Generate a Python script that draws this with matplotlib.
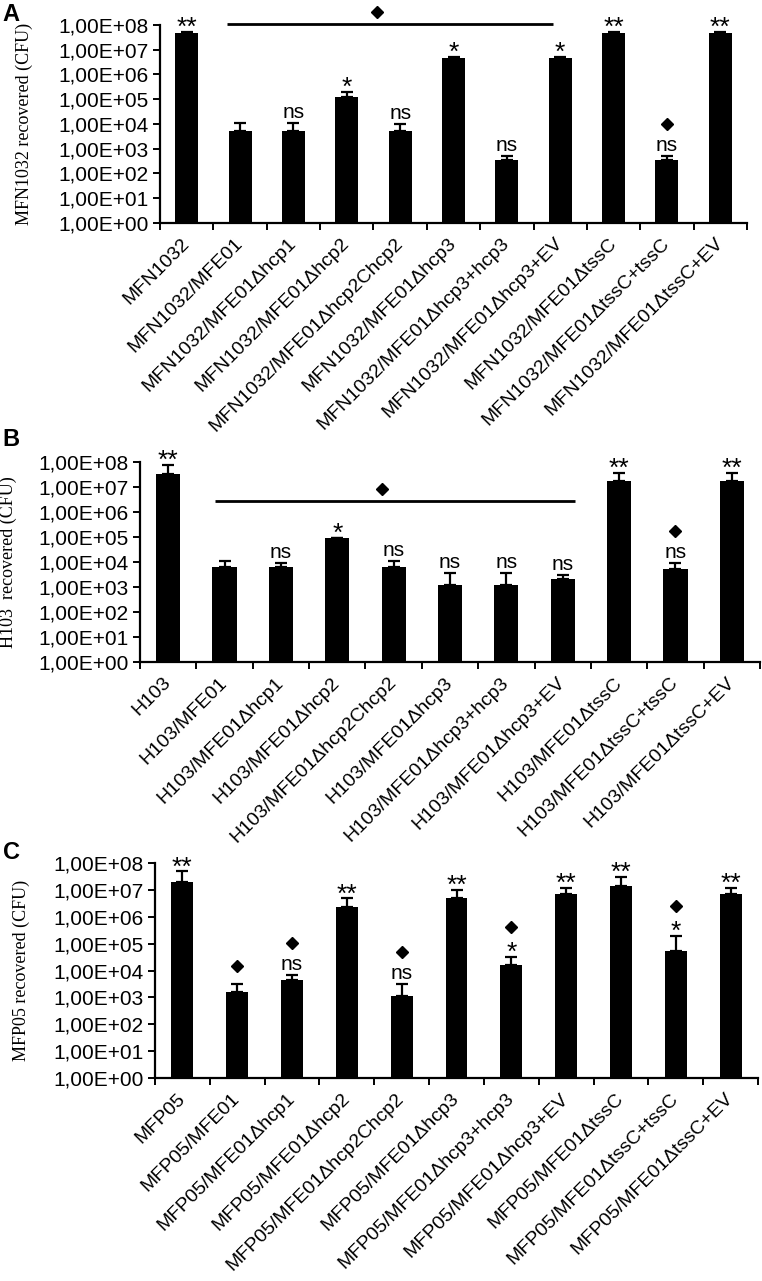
import numpy as np
import matplotlib
matplotlib.use("Agg")
import matplotlib.pyplot as plt
from matplotlib.transforms import ScaledTranslation
from matplotlib.ticker import FixedLocator, FixedFormatter, NullLocator

# ---------------- data ----------------
suffixes = ["", "/MFE01", "/MFE01\u0394hcp1", "/MFE01\u0394hcp2", "/MFE01\u0394hcp2Chcp2",
            "/MFE01\u0394hcp3", "/MFE01\u0394hcp3+hcp3", "/MFE01\u0394hcp3+EV",
            "/MFE01\u0394tssC", "/MFE01\u0394tssC+tssC", "/MFE01\u0394tssC+EV"]
cats_A = ["MFN1032" + s for s in suffixes]
cats_B = ["H103" + s for s in suffixes]
cats_C = ["MFP05" + s for s in suffixes]

values_A = [4.8e7, 5.1e3, 5.1e3, 1.17e5, 5.1e3, 4.8e6, 3.3e2, 4.8e6, 4.9e7, 3.3e2, 4.9e7]
err_A = [0.5e7, 5.4e3, 5.4e3, 8.3e4, 4.9e3, 0.2e6, 1.7e2, 0.2e6, 0.5e7, 1.7e2, 0.5e7]

values_B = [3.2e7, 6.5e3, 6.5e3, 8.9e4, 6.5e3, 1.2e3, 1.2e3, 2.1e3, 1.7e7, 5.4e3, 1.7e7]
err_B = [4.4e7, 4.5e3, 2.4e3, 0.0, 4.5e3, 2.3e3, 2.3e3, 0.8e3, 1.8e7, 3.5e3, 1.8e7]

values_C = [2.0e7, 1.56e3, 4.4e3, 2.4e6, 1.1e3, 4.9e6, 1.6e4, 7.1e6, 1.47e7, 5.4e4, 7.1e6]
err_C = [3.0e7, 1.64e3, 2.4e3, 2.5e6, 2.1e3, 5.1e6, 1.7e4, 4.9e6, 1.53e7, 1.42e5, 4.9e6]

sig_A = ["**", "", "ns", "*", "ns", "*", "ns", "*", "**", "ns", "**"]
sig_B = ["**", "", "ns", "*", "ns", "ns", "ns", "ns", "**", "ns", "**"]
sig_C = ["**", "", "ns", "**", "ns", "**", "*", "**", "**", "*", "**"]
diamond_A = [9]
diamond_B = [9]
diamond_C = [1, 2, 4, 6, 9]
bracket_A = (1, 7)   # categories spanned by the diamond bracket
bracket_B = (1, 7)

ytick_vals = [1e0, 1e1, 1e2, 1e3, 1e4, 1e5, 1e6, 1e7, 1e8]
ytick_labels = ["1,00E+00", "1,00E+01", "1,00E+02", "1,00E+03", "1,00E+04",
                "1,00E+05", "1,00E+06", "1,00E+07", "1,00E+08"]
ylabels = ["MFN1032 recovered (CFU)", "H103  recovered (CFU)", "MFP05 recovered (CFU)"]
letters = ["A", "B", "C"]

# ---------------- figure ----------------
W, H = 762, 1281
DPI = 100
fig = plt.figure(figsize=(W / DPI, H / DPI), dpi=DPI)
SANS = ["Liberation Sans", "DejaVu Sans"]
SERIF = ["Liberation Serif", "DejaVu Serif"]
FS_Y = 15
FS_X = 14
FS_NS = 15
FS_STAR = 19


def px_axes(left, right, top, bottom):
    return fig.add_axes([left / W, 1 - bottom / H, (right - left) / W, (bottom - top) / H])


def off(ax, dx_px, dy_px):
    return ax.transData + ScaledTranslation(dx_px / DPI, dy_px / DPI, fig.dpi_scale_trans)


def panel(ax, cats, vals, errs, sig, diamonds, ylabel, letter,
          barw, ylabel_x, letter_xy, bracket_cfg=None):
    n = len(cats)
    x = np.arange(n)
    ax.bar(x, vals, width=barw, color="black", edgecolor="black", linewidth=0, zorder=2)
    ax.errorbar(x, vals, yerr=[np.zeros(n), errs], fmt="none", ecolor="black",
                elinewidth=1.6, capsize=4.6, capthick=1.6, zorder=3)
    ax.set_yscale("log")
    ax.set_ylim(1, 1e8)
    ax.set_xlim(-0.5, n - 0.5)
    ax.yaxis.set_major_locator(FixedLocator(ytick_vals))
    ax.yaxis.set_major_formatter(FixedFormatter(ytick_labels))
    ax.yaxis.set_minor_locator(NullLocator())
    ax.set_xticks(x)
    ax.set_xticklabels(cats, rotation=45, ha="right", va="center",
                       rotation_mode="anchor", fontsize=FS_X, family=SANS)
    ax.set_xticks(np.arange(n + 1) - 0.5, minor=True)
    ax.tick_params(axis="x", which="major", length=0, pad=13)
    ax.tick_params(axis="x", which="minor", length=5, width=1.4, direction="out")
    ax.tick_params(axis="y", which="major", length=5, width=1.4, direction="out",
                   labelsize=FS_Y, pad=3)
    for lab in ax.get_yticklabels():
        lab.set_family(SANS)
    for s in ["top", "right"]:
        ax.spines[s].set_visible(False)
    for s in ["left", "bottom"]:
        ax.spines[s].set_linewidth(1.6)
    ax.set_ylabel(ylabel, family=SERIF, fontsize=13)
    ax.yaxis.set_label_coords(ylabel_x, 0.5)
    fig.text(letter_xy[0] / W, 1 - letter_xy[1] / H, letter, fontsize=17,
             fontweight="bold", family=SANS, ha="left", va="top")

    tops = np.array(vals) + np.array(errs)
    for i in range(n):
        s = sig[i]
        if s == "ns":
            ax.text(x[i], tops[i], s, transform=off(ax, 0, 5), ha="center",
                    va="baseline", fontsize=FS_NS, family=SANS, zorder=4)
        elif s:
            ax.text(x[i], tops[i], s, transform=off(ax, 0, -3), ha="center",
                    va="baseline", fontsize=FS_STAR, family=SANS, zorder=4)
        if i in diamonds:
            if s == "ns":
                dy = 32
            elif s:
                dy = 30
            else:
                dy = 18
            ax.plot([x[i]], [tops[i]], marker="D", ms=6.2, color="black",
                    transform=off(ax, 0, dy), clip_on=False, zorder=4)
    if bracket_cfg is not None:
        x0, x1, yline, ydiam, xdiam = bracket_cfg
        ax.plot([x0, x1], [yline, yline], color="black", lw=2.0, clip_on=False,
                solid_capstyle="butt")
        ax.plot([xdiam], [ydiam], marker="D", ms=6.2, color="black", clip_on=False)


axA = px_axes(160, 747, 25, 222.7)
panel(axA, cats_A, values_A, err_A, sig_A, diamond_A, ylabels[0], letters[0],
      barw=0.43, ylabel_x=(33 - 160) / 587, letter_xy=(2, 3),
      bracket_cfg=(bracket_A[0] - 0.25, bracket_A[1] - 0.14, 1.05e8, 3.4e8,
                   (bracket_A[0] + bracket_A[1]) / 2 - 0.44))

axB = px_axes(140, 760, 461.7, 662)
panel(axB, cats_B, values_B, err_B, sig_B, diamond_B, ylabels[1], letters[1],
      barw=0.43, ylabel_x=(17 - 140) / 620, letter_xy=(2, 428),
      bracket_cfg=(bracket_B[0] - 0.17, bracket_B[1] + 0.21, 2.6e6, 8.3e6,
                   (bracket_B[0] + bracket_B[1]) / 2 - 0.21))

axC = px_axes(155, 758, 863.3, 1078)
panel(axC, cats_C, values_C, err_C, sig_C, diamond_C, ylabels[2], letters[2],
      barw=0.40, ylabel_x=(30 - 155) / 603, letter_xy=(3, 841))

fig.savefig("out.png", dpi=DPI)
